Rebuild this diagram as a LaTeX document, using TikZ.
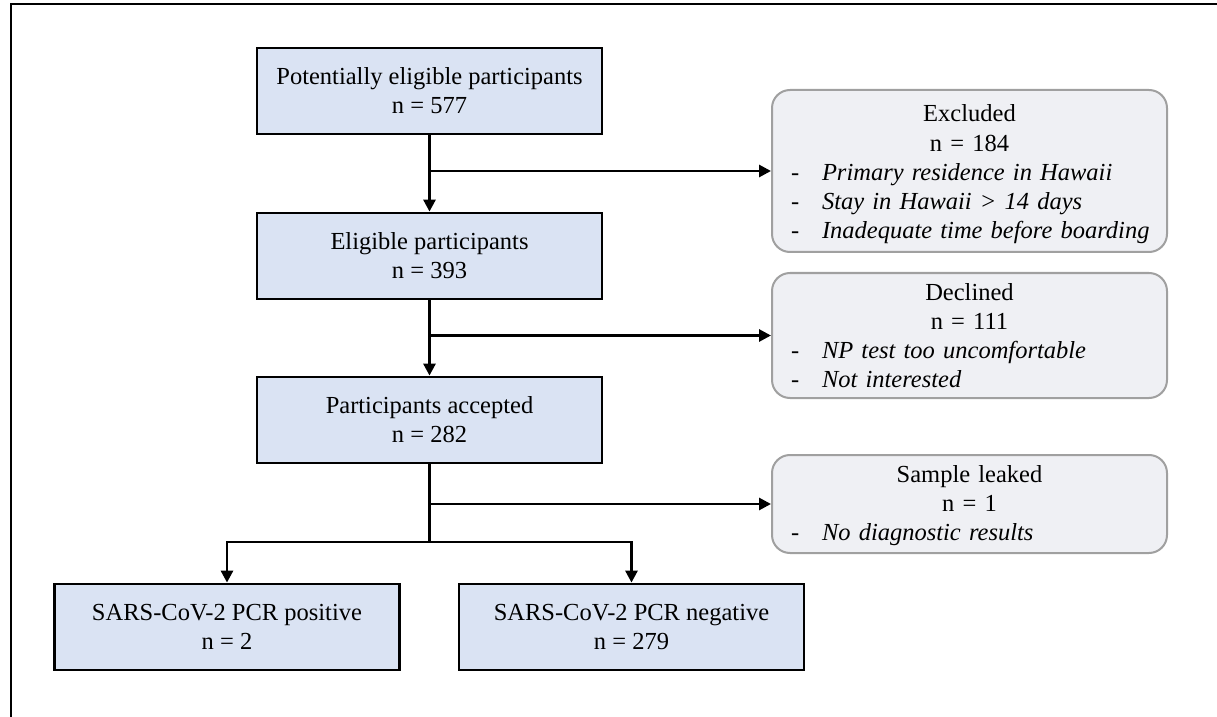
\documentclass[tikz,border=0pt]{standalone}
\usepackage{fontspec}
\setmainfont{Liberation Serif}
\usetikzlibrary{arrows.meta}
\definecolor{boxblue}{RGB}{218,227,243}
\definecolor{boxgrey}{RGB}{239,240,244}
\definecolor{edgegrey}{RGB}{160,160,160}
\newcommand{\sideitem}[1]{\makebox[197.5pt][l]{\hspace{9.5pt}\makebox[15.5pt][l]{-}\textit{#1}}}
\begin{document}
\begin{tikzpicture}[x=0.5pt,y=-0.5pt,
  txt/.style={font=\fontsize{12.25}{14.6}\selectfont},
  mainbox/.style={txt, draw=black, line width=1.4pt, fill=boxblue, minimum width=172.5pt, minimum height=43pt, inner sep=0pt, align=center},
  sidebox/.style={txt, draw=edgegrey, line width=1pt, fill=boxgrey, rounded corners=9pt, minimum width=197.5pt, text width=197.5pt, inner sep=0pt, align=center},
  conn/.style={line width=1.4pt},
  arr/.style={conn, -{Triangle[length=6pt,width=6pt]}}
]
\useasboundingbox (0,0) rectangle (1217,717);
% frame
\coordinate (fTR) at (1217,4);
\coordinate (fTL) at (11,4);
\coordinate (fBL) at (11,717);
\draw[line width=1.4pt] (fTR) -- (fTL) -- (fBL);

% main boxes
\node[mainbox] (pot) at (429.5,91) {Potentially eligible participants\\n = 577};
\node[mainbox] (elig) at (429.5,256) {Eligible participants\\n = 393};
\node[mainbox] (acc) at (429.5,420) {Participants accepted\\n = 282};
\node[mainbox] (pos) at (227,627) {SARS-CoV-2 PCR positive\\n = 2};
\node[mainbox] (neg) at (631.5,627) {SARS-CoV-2 PCR negative\\n = 279};

% side boxes
\node[sidebox, minimum height=81pt] (excl) at (969.5,171) {\rule{0pt}{12pt}Excluded\\n = 184\\
  \sideitem{Primary residence in Hawaii}\\
  \sideitem{Stay in Hawaii > 14 days}\\
  \sideitem{Inadequate time before boarding}};
\node[sidebox, minimum height=62.5pt] (decl) at (969.5,335.5) {Declined\\n = 111\\
  \sideitem{NP test too uncomfortable}\\
  \sideitem{Not interested}};
\node[sidebox, minimum height=49pt] (leak) at (969.5,504) {\rule{0pt}{10pt}Sample leaked\\n = 1\\
  \sideitem{No diagnostic results}};

% connectors
\coordinate (b1) at (pot.south |- excl.west);
\coordinate (b2) at (elig.south |- decl.west);
\coordinate (b3) at (acc.south |- leak.west);
\coordinate (split) at (429.5,542);

\draw[arr] (pot.south) -- (elig.north);
\draw[arr] (b1) -- (excl.west);
\draw[arr] (elig.south) -- (acc.north);
\draw[arr] (b2) -- (decl.west);
\draw[conn] (acc.south) -- (split);
\draw[arr] (b3) -- (leak.west);
\draw[arr] (split) -| (pos.north);
\draw[arr] (split) -| (neg.north);
\end{tikzpicture}
\end{document}
